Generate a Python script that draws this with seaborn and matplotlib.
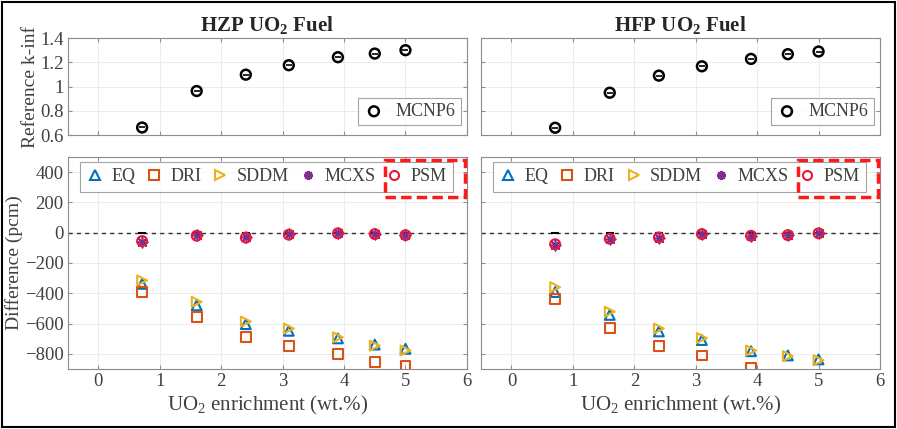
import numpy as np
import pandas as pd
import seaborn as sns
import matplotlib.pyplot as plt
from matplotlib.patches import Rectangle

# enrichment points (wt.%)
enrich = [0.711, 1.6, 2.4, 3.1, 3.9, 4.5, 5.0]

# reference k-inf from MCNP6
kinf_hzp = [0.663, 0.964, 1.099, 1.177, 1.243, 1.273, 1.301]
kinf_hfp = [0.661, 0.950, 1.091, 1.168, 1.229, 1.268, 1.290]

# differences (pcm), HZP
eq_hzp = [-338, -480, -604, -648, -698, -739, -767]
dri_hzp = [-390, -555, -691, -746, -804, -854, -883]
sddm_hzp = [-315, -457, -587, -633, -691, -746, -778]
mcxs_hzp = [-60, -18, -30, -11, -4, -8, -14]
psm_hzp = [-55, -20, -33, -13, -4, -9, -16]

# differences (pcm), HFP
eq_hfp = [-392, -543, -652, -709, -783, -811, -837]
dri_hfp = [-440, -630, -750, -811, -893, np.nan, np.nan]
sddm_hfp = [-360, -522, -633, -696, -778, -815, -843]
mcxs_hfp = [-80, -42, -33, -9, -20, -18, -5]
psm_hfp = [-76, -40, -31, -9, -20, -16, -4]

sns.set_style('white')
plt.rcParams['font.family'] = ['Liberation Serif', 'DejaVu Serif']
plt.rcParams['mathtext.fontset'] = 'custom'
plt.rcParams['mathtext.rm'] = 'Liberation Serif'
plt.rcParams['mathtext.bf'] = 'Liberation Serif:bold'

TXT = '#404040'
cols = {'EQ': '#0072BD', 'DRI': '#D95319', 'SDDM': '#EDB120',
        'MCXS': '#7E2F8E', 'PSM': '#E8173A'}
marks = {'EQ': '^', 'DRI': 's', 'SDDM': '>', 'MCXS': (8, 2, 0), 'PSM': 'o'}

fig = plt.figure(figsize=(8.97, 4.29), dpi=100)
fig.patches.append(Rectangle((0.002, 0.004), 0.996, 0.992, transform=fig.transFigure,
                             fill=False, ec='black', lw=1.5))

lefts = [0.0755, 0.536]
w = 0.445
top_axes = [fig.add_axes([l, 0.685, w, 0.226]) for l in lefts]
bot_axes = [fig.add_axes([l, 0.140, w, 0.494]) for l in lefts]

def style(ax, showy):
    ax.set_xlim(-0.5, 6)
    ax.set_xticks(range(0, 7))
    ax.grid(True, color='#ececec', lw=0.7)
    for s in ax.spines.values():
        s.set_color('#8c8c8c')
        s.set_linewidth(0.8)
    ax.tick_params(direction='in', length=3, colors='#8c8c8c', labelcolor=TXT,
                   labelsize=13.5, top=True, right=True, bottom=True, left=True, pad=3)
    if not showy:
        ax.tick_params(labelleft=False)

def frame(leg):
    leg.get_frame().set_edgecolor('#8c8c8c')
    leg.get_frame().set_linewidth(0.8)
    for t in leg.get_texts():
        t.set_color(TXT)

titles = [r'HZP UO$_\mathbf{2}$ Fuel', r'HFP UO$_\mathbf{2}$ Fuel']
kinfs = [kinf_hzp, kinf_hfp]
for i, ax in enumerate(top_axes):
    d = pd.DataFrame({'x': enrich, 'k': kinfs[i]})
    sns.scatterplot(data=d, x='x', y='k', ax=ax, marker='o', s=50,
                    facecolor='none', edgecolor='black', linewidth=1.8,
                    label='MCNP6', zorder=3)
    sns.scatterplot(data=d, x='x', y='k', ax=ax, marker='_', s=20,
                    color='black', linewidth=1.2, zorder=4)
    ax.set_ylim(0.6, 1.4)
    ax.set_yticks([0.6, 0.8, 1.0, 1.2, 1.4])
    ax.set_yticklabels(['0.6', '0.8', '1', '1.2', '1.4'])
    style(ax, i == 0)
    ax.set_xticklabels([])
    ax.set_xlabel('')
    ax.set_ylabel('Reference k-inf' if i == 0 else '', fontsize=14, color=TXT, labelpad=1)
    ax.set_title(titles[i], fontsize=15, fontweight='bold', pad=5)
    leg = ax.legend(loc='lower right', bbox_to_anchor=(0.985, 0.1), fontsize=13,
                    frameon=True, fancybox=False, handletextpad=0.6,
                    borderpad=0.3, borderaxespad=0, handlelength=1.2)
    frame(leg)

series = [
    {'EQ': eq_hzp, 'DRI': dri_hzp, 'SDDM': sddm_hzp, 'MCXS': mcxs_hzp, 'PSM': psm_hzp},
    {'EQ': eq_hfp, 'DRI': dri_hfp, 'SDDM': sddm_hfp, 'MCXS': mcxs_hfp, 'PSM': psm_hfp},
]
for i, ax in enumerate(bot_axes):
    ax.axhline(0, color='#303030', ls=(0, (3, 3)), lw=1.0, zorder=1)
    handles = []
    for name in ['EQ', 'DRI', 'SDDM', 'MCXS', 'PSM']:
        d = pd.DataFrame({'x': enrich, 'y': series[i][name]})
        if name == 'MCXS':
            sns.scatterplot(data=d, x='x', y='y', ax=ax, marker=marks[name], s=55,
                            color=cols[name], edgecolor=cols[name], linewidth=1.2, zorder=3)
        else:
            sns.scatterplot(data=d, x='x', y='y', ax=ax, marker=marks[name], s=50,
                            facecolor='none', edgecolor=cols[name], linewidth=1.5,
                            zorder=4 if name == 'PSM' else 3)
        h = plt.Line2D([], [], ls='none', marker=marks[name], ms=6.5,
                       mfc=cols[name] if name == 'MCXS' else 'none',
                       mec=cols[name], mew=1.5, label=name)
        handles.append(h)
    # MCNP6 zero reference
    z = pd.DataFrame({'x': enrich, 'y': [0] * len(enrich)})
    sns.scatterplot(data=z, x='x', y='y', ax=ax, marker='_', s=40, color='black',
                    linewidth=1.5, zorder=2)
    ax.set_ylim(-900, 500)
    ax.set_yticks(range(-800, 401, 200))
    style(ax, i == 0)
    ax.set_xlabel('UO$_2$ enrichment (wt.%)', fontsize=15, color=TXT, labelpad=3)
    ax.set_ylabel('Difference (pcm)' if i == 0 else '', fontsize=14, color=TXT, labelpad=1)
    leg = ax.legend(handles=handles, ncol=5, loc='upper left',
                    bbox_to_anchor=(0.03, 0.976), fontsize=13, frameon=True,
                    fancybox=False, columnspacing=0.55, handletextpad=0.4,
                    borderpad=0.35, borderaxespad=0, handlelength=1.0)
    frame(leg)
    # red dashed box around PSM entry
    ax.add_patch(Rectangle((0.795, 0.811), 0.2, 0.175, transform=ax.transAxes,
                           fill=False, ec='#FF1A1A', lw=2.5, ls=(0, (3, 1.5)),
                           clip_on=False, zorder=10))

fig.savefig('out.png', dpi=100)
